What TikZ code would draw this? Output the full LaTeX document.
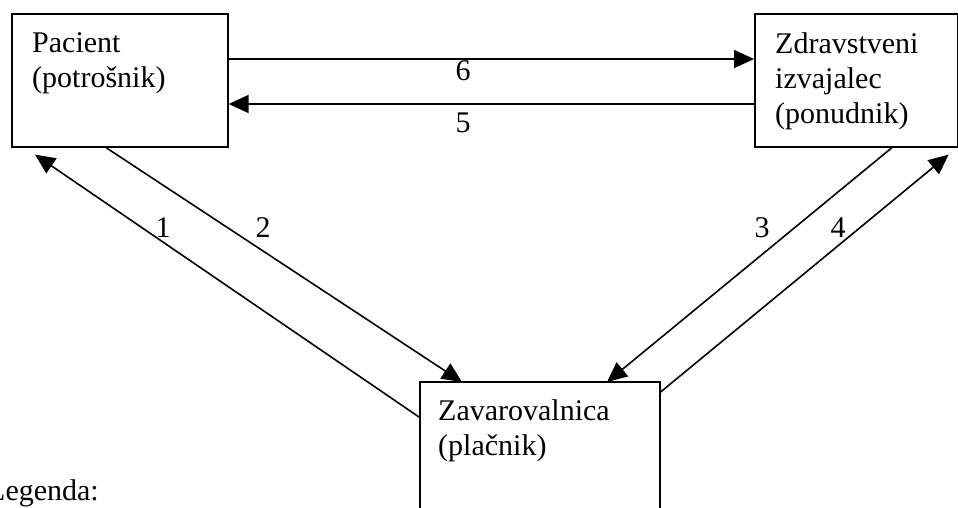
\documentclass[tikz,border=0pt]{standalone}
\usepackage{fontspec}
\setmainfont{Liberation Serif}
\usetikzlibrary{arrows.meta,calc}

\tikzset{
  box/.style={draw, line width=1.6pt, rectangle, inner sep=0pt, anchor=north west},
  boxtext/.style={anchor=north west, inner sep=0pt, align=left,
    font=\fontsize{30}{35}\selectfont},
  lbl/.style={inner sep=0pt, font=\fontsize{30}{35}\selectfont},
  flow/.style={line width=1.6pt, -{Triangle[length=20pt,width=18pt]}},
}

\begin{document}
\begin{tikzpicture}[x=1pt,y=-1pt]
  \useasboundingbox (0,0) rectangle (958,507);

  % the three parties
  \node[box, minimum width=216pt, minimum height=133pt] (pac) at (11,13) {};
  \node[box, minimum width=202.5pt, minimum height=133pt] (zdr) at (754,13) {};
  \node[box, minimum width=240pt, minimum height=170pt] (zav) at (419,381) {};

  \node[boxtext] (pactext) at ($(pac.north west)+(21,14.5)$)
    {\strut Pacient\\\strut (potrošnik)};
  \node[boxtext] (zdrtext) at ($(zdr.north west)+(21,15.5)$)
    {\strut Zdravstveni\\\strut izvajalec\\\strut (ponudnik)};
  \node[boxtext] (zavtext) at ($(zav.north west)+(19,14.5)$)
    {\strut Zavarovalnica\\\strut (plačnik)};

  % flows between patient and provider
  \draw[flow] ($(pac.north east)+(0,46)$) -- ($(zdr.north west)+(0,46)$);
  \draw[flow] ($(zdr.north west)+(0,91)$) -- ($(pac.north east)+(0,91)$);

  % flows to and from the insurer
  \draw[flow] ($(zav.north west)+(0,36)$) -- ($(pac.south west)+(24,7)$);
  \draw[flow] ($(pac.south west)+(95,0)$) -- ($(zav.north west)+(43,1)$);
  \draw[flow] ($(zdr.south west)+(138,0)$) -- ($(zav.north west)+(188,1)$);
  \draw[flow] ($(zav.north east)+(0,11)$) -- ($(zdr.south east)+(-9.5,7)$);

  % flow numbers
  \node[lbl] (n6) at (463,71) {6};
  \node[lbl] (n5) at (463,123) {5};
  \node[lbl] (n1) at (163,228) {1};
  \node[lbl] (n2) at (263,228) {2};
  \node[lbl] (n3) at (762,228) {3};
  \node[lbl] (n4) at (838,228) {4};

  \node[lbl, anchor=base west] (legend) at (-13,500) {Legenda:};
\end{tikzpicture}
\end{document}
